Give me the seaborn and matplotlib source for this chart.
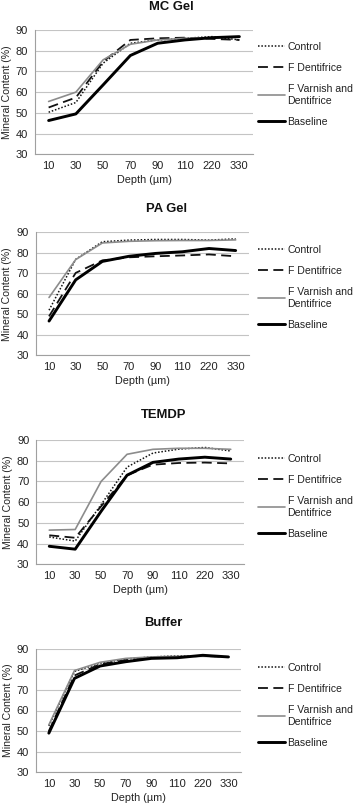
import numpy as np
import pandas as pd
import matplotlib
matplotlib.use("Agg")
import matplotlib.pyplot as plt
import seaborn as sns

depths = ['10', '30', '50', '70', '90', '110', '220', '330']
series = ['Control', 'F Dentifrice', 'F Varnish and\nDentifrice', 'Baseline']

# MC Gel
mc_control = [50.3, 55.0, 74.0, 83.6, 85.2, 86.0, 86.8, 85.2]
mc_fdent = [52.6, 57.4, 74.8, 85.2, 86.0, 86.3, 85.7, 85.2]
mc_fvarn = [55.5, 60.0, 75.6, 83.1, 85.2, 86.0, 86.3, 86.8]
mc_base = [46.3, 49.5, 63.5, 77.7, 83.6, 85.2, 86.3, 86.8]

# PA Gel
pa_control = [52.0, 76.8, 85.4, 86.2, 86.5, 86.5, 86.2, 86.8]
pa_fdent = [49.0, 70.2, 76.3, 77.8, 78.3, 78.7, 79.2, 78.3]
pa_fvarn = [58.2, 76.7, 84.8, 85.6, 85.9, 86.0, 86.0, 86.3]
pa_base = [46.7, 66.8, 75.8, 78.3, 79.7, 80.5, 82.1, 81.1]

# TEMDP
te_control = [43.2, 41.2, 58.8, 76.9, 83.7, 85.6, 86.4, 84.7]
te_fdent = [44.0, 42.8, 58.0, 73.0, 78.1, 78.9, 79.1, 78.7]
te_fvarn = [46.5, 46.8, 70.0, 83.1, 85.5, 86.0, 86.0, 85.5]
te_base = [38.7, 37.3, 55.6, 73.0, 79.2, 80.8, 81.7, 80.8]

# Buffer
bu_control = [52.5, 79.0, 83.0, 85.0, 86.0, 86.5, 86.5, 86.0]
bu_fdent = [50.0, 77.0, 82.5, 84.5, 85.5, 86.0, 86.5, 86.0]
bu_fvarn = [53.0, 79.4, 83.4, 85.3, 86.0, 86.3, 86.3, 86.0]
bu_base = [49.0, 75.6, 81.6, 83.7, 85.3, 85.6, 86.8, 86.0]

panels = [
    ('MC Gel', [mc_control, mc_fdent, mc_fvarn, mc_base]),
    ('PA Gel', [pa_control, pa_fdent, pa_fvarn, pa_base]),
    ('TEMDP', [te_control, te_fdent, te_fvarn, te_base]),
    ('Buffer', [bu_control, bu_fdent, bu_fvarn, bu_base]),
]

sns.set_style('white')
plt.rcParams['font.family'] = ['Liberation Sans', 'DejaVu Sans']

W, H = 358, 808
fig = plt.figure(figsize=(W / 100, H / 100), dpi=100)

# axes boxes in pixels: left, right, top, bottom
boxes = [(35, 253, 30, 154.3), (35.7, 249, 232.3, 355.3),
         (36.3, 243.7, 440, 564.3), (36, 241.3, 648.7, 772.3)]
titles_xy = [(171, 6.5), (167, 209.5), (163.5, 415), (163.5, 623)]
leg_top = [42, 245, 454, 663]

palette = {series[0]: '#111111', series[1]: '#111111',
           series[2]: '#8c8c8c', series[3]: '#000000'}
dashes = {series[0]: (1, 1.2), series[1]: (5.5, 3), series[2]: '', series[3]: ''}
sizes = {series[0]: 1.1, series[1]: 1.3, series[2]: 1.2, series[3]: 2.1}

fs = 8.0

for i, (name, vals) in enumerate(panels):
    l, r, t, b = boxes[i]
    ax = fig.add_axes([l / W, 1 - b / H, (r - l) / W, (b - t) / H])
    rows = []
    for s, v in zip(series, vals):
        for d, y in zip(depths, v):
            rows.append({'pos': depths.index(d), 'Mineral': y, 'Series': s})
    df = pd.DataFrame(rows)
    sns.lineplot(data=df, x='pos', y='Mineral', hue='Series', style='Series',
                 size='Series', palette=palette, dashes=dashes, sizes=sizes,
                 hue_order=series, style_order=series, size_order=series,
                 legend=False, ax=ax)
    ax.set_xlim(-0.5, 7.5)
    ax.set_ylim(30, 90)
    ax.set_yticks(range(30, 91, 10))
    ax.set_xticks(range(len(depths)), depths)
    ax.set_xticks(np.arange(-0.5, 8, 1), minor=True)
    ax.grid(axis='y', color='#c4c4c4', lw=0.8)
    ax.grid(axis='x', visible=False)
    ax.set_axisbelow(True)
    for sp in ['top', 'right']:
        ax.spines[sp].set_visible(False)
    for sp in ['left', 'bottom']:
        ax.spines[sp].set_color('#a0a0a0')
        ax.spines[sp].set_linewidth(0.8)
    ax.tick_params(axis='x', which='major', length=0, pad=5, labelsize=fs, colors='#222222')
    ax.tick_params(axis='x', which='minor', length=3, width=0.8, color='#a0a0a0', direction='out')
    ax.tick_params(axis='y', which='major', length=3, width=0.8, color='#a0a0a0',
                   pad=2, labelsize=fs, labelcolor='#222222', direction='out')
    ax.set_xlabel('Depth (\u00b5m)', fontsize=7.8, color='#222222', labelpad=3)
    ax.set_ylabel('Mineral Content (%)', fontsize=7.6, color='#222222', labelpad=3)

    tx, ty = titles_xy[i]
    fig.text(tx / W, 1 - ty / H, name, ha='center', va='center',
             fontsize=9.4, fontweight='bold', color='#111111')

    handles = ax.get_lines()[:4]
    ax.legend(handles, series, loc='upper left',
              bbox_to_anchor=(258 / W, 1 - leg_top[i] / H),
              bbox_transform=fig.transFigure, frameon=False, fontsize=7.6,
              borderpad=0, borderaxespad=0, handlelength=2.6,
              handletextpad=0.2, labelspacing=1.05, labelcolor='#222222')

fig.savefig('out.png', dpi=100)
